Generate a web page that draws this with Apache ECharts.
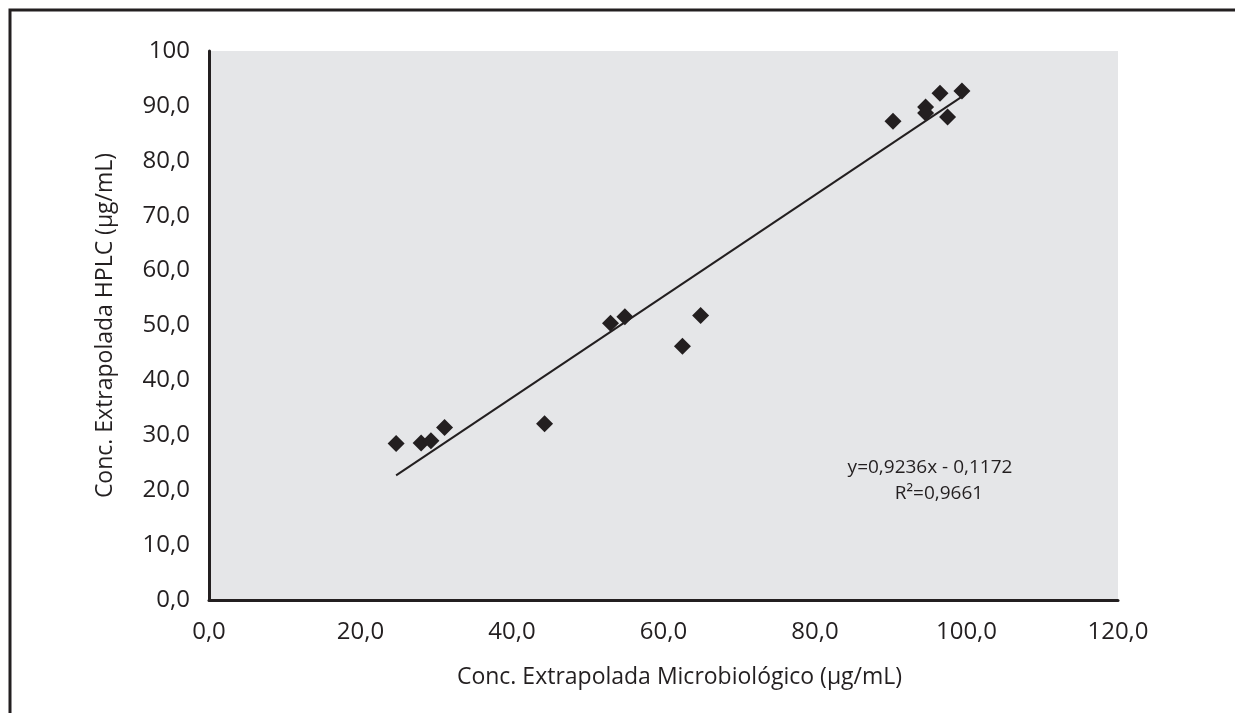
<!DOCTYPE html>
<html>
<head>
<meta charset="utf-8">
<script src="https://cdn.jsdelivr.net/npm/echarts@6/dist/echarts.min.js"></script>
<style>
  html, body { margin: 0; padding: 0; background: #fff; }
  #chart { width: 1235px; height: 713px; }
</style>
</head>
<body>
<div id="chart"></div>
<script>
// points: [microbiológico, HPLC]
const microValues = [24.7, 28.0, 29.3, 31.1, 44.3, 53.0, 54.9, 62.5, 64.9, 90.3, 94.6, 94.6, 96.5, 97.5, 99.4]
const hplcValues = [28.5, 28.6, 29.0, 31.4, 32.1, 50.4, 51.6, 46.2, 51.8, 87.2, 89.8, 88.7, 92.3, 88.0, 92.7]
// trend line ends (as drawn)
const trendX = [24.7, 99.4]
const trendY = [22.7, 91.7]
const xTickLabels = ['0,0', '20,0', '40,0', '60,0', '80,0', '100,0', '120,0']
const yTickLabels = ['0,0', '10,0', '20,0', '30,0', '40,0', '50,0', '60,0', '70,0', '80,0', '90,0', '100']
const equationText = 'y=0,9236x - 0,1172'
const r2Text = 'R²=0,9661'

const font = '"Open Sans", Lato, sans-serif'
const tickSize = 24
const nameSize = 23
const noteSize = 19
const textColor = '#231f20'

const points = microValues.map((v, i) => [v, hplcValues[i]])
const trend = trendX.map((v, i) => [v, trendY[i]])

const chart = echarts.init(document.getElementById('chart'))
const option = {
  animation: false,
  backgroundColor: '#fff',
  grid: {
    left: 209,
    right: 117,
    top: 51,
    bottom: 113,
    show: true,
    backgroundColor: '#e5e6e8',
    borderWidth: 0
  },
  xAxis: {
    type: 'value',
    min: 0,
    max: 120,
    interval: 20,
    name: 'Conc. Extrapolada Microbiológico (µg/mL)',
    nameLocation: 'middle',
    nameGap: 66,
    nameTextStyle: {
      fontFamily: font,
      fontSize: nameSize,
      color: textColor,
      padding: [0, 0, 0, 32]
    },
    axisLine: { show: true, onZero: false, lineStyle: { color: textColor, width: 3 } },
    axisTick: { show: false },
    splitLine: { show: false },
    axisLabel: {
      fontFamily: font,
      fontSize: tickSize,
      color: textColor,
      margin: 20,
      formatter: v => xTickLabels[Math.round(v / 20)]
    }
  },
  yAxis: {
    type: 'value',
    min: 0,
    max: 100,
    interval: 10,
    name: 'Conc. Extrapolada HPLC (µg/mL)',
    nameLocation: 'middle',
    nameGap: 92,
    nameTextStyle: {
      fontFamily: font,
      fontSize: nameSize,
      color: textColor
    },
    axisLine: { show: true, onZero: false, lineStyle: { color: textColor, width: 3 } },
    axisTick: { show: false },
    splitLine: { show: false },
    axisLabel: {
      fontFamily: font,
      fontSize: tickSize,
      color: textColor,
      margin: 19,
      formatter: v => yTickLabels[Math.round(v / 10)]
    }
  },
  graphic: [
    {
      type: 'polyline',
      shape: { points: [[10, 713], [10, 10], [1235, 10]] },
      style: { fill: 'none', stroke: '#231f20', lineWidth: 3 },
      silent: true
    },
    {
      type: 'text',
      x: 930,
      y: 458,
      style: { text: equationText, font: noteSize + 'px ' + font, fill: textColor, textAlign: 'center' }
    },
    {
      type: 'text',
      x: 939,
      y: 484,
      style: { text: r2Text, font: noteSize + 'px ' + font, fill: textColor, textAlign: 'center' }
    }
  ],
  series: [
    {
      name: 'Tendencia',
      type: 'line',
      data: trend,
      symbol: 'none',
      lineStyle: { color: textColor, width: 2 },
      z: 2
    },
    {
      name: 'Datos',
      type: 'scatter',
      data: points,
      symbol: 'diamond',
      symbolSize: 17,
      itemStyle: { color: textColor, opacity: 1 },
      z: 3
    }
  ]
}
chart.setOption(option)
window.addEventListener('resize', () => chart.resize())
</script>
</body>
</html>
